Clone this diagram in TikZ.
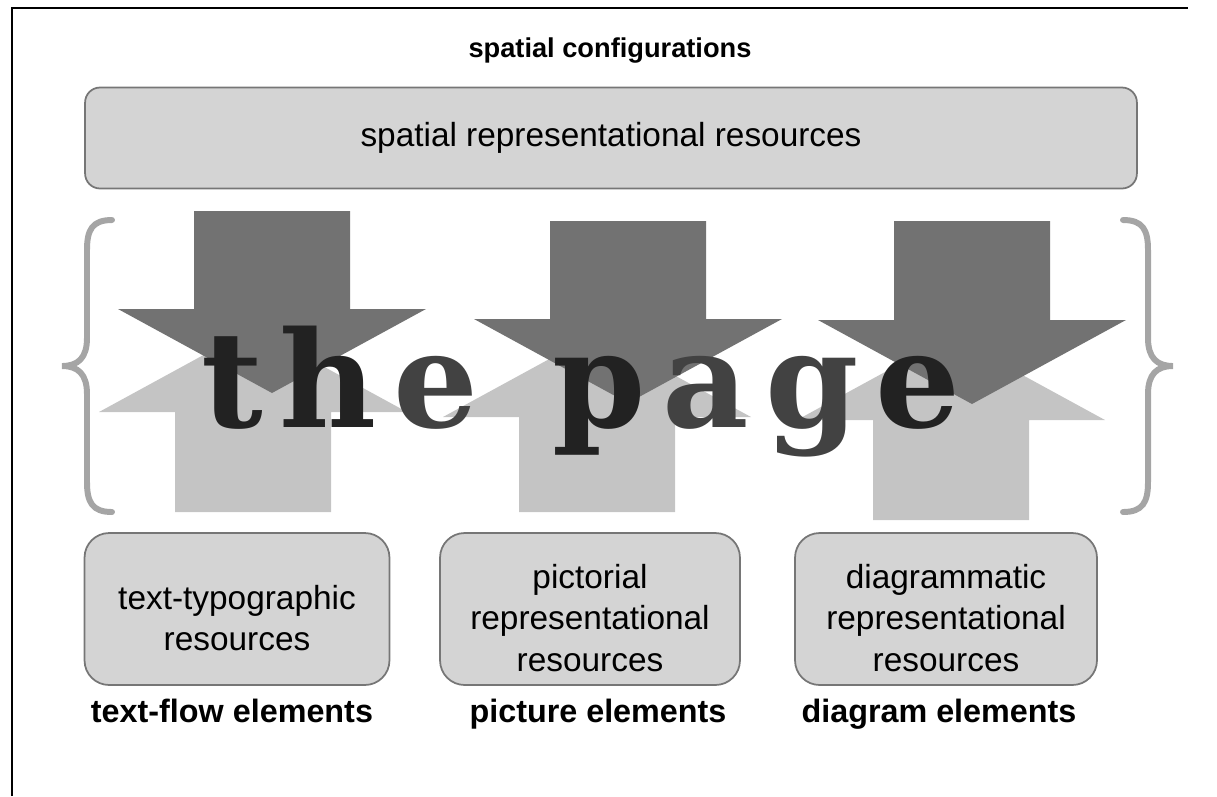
\documentclass[tikz,border=0pt]{standalone}
\usepackage{fontspec}
\setmainfont{Liberation Sans}
\newfontfamily\pagefont{DejaVu Serif}
\newcommand{\pgap}{\kern9.5pt}
\definecolor{boxgray}{RGB}{212, 212, 212}
\definecolor{edgegray}{RGB}{118, 118, 118}
\definecolor{downgray}{RGB}{114, 114, 114}
\definecolor{upgray}{RGB}{196, 196, 196}
\definecolor{bracegray}{RGB}{165, 165, 165}
\definecolor{inkgray}{RGB}{66, 66, 66}
\definecolor{inkdark}{RGB}{34, 34, 34}

\begin{document}
\begin{tikzpicture}[x=0.02cm, y=-0.02cm,
  resbox/.style={draw=edgegray, fill=boxgray, line width=1pt, rounded corners=14pt,
    minimum height=3.04cm},
  restext/.style={align=center, font=\fontsize{19}{23.5}\selectfont},
  elemlabel/.style={anchor=base, font=\bfseries\fontsize{18.4}{22}\selectfont},
  bracestroke/.style={draw=bracegray, line width=3.4pt, line cap=round}]
  \useasboundingbox (0,0) rectangle (1217,796);

  % Frame
  \draw[line width=1.2pt] (12,796) -- (12,8) -- (1188,8);

  % Title
  \node[anchor=base, font=\bfseries\fontsize{15.5}{18}\selectfont] (spatconf) at (610,57) {spatial configurations};

  % Spatial resources bar
  \node[resbox, restext, rounded corners=8.5pt, minimum width=21.04cm, minimum height=2.02cm] (spatres) at (611,138) {spatial representational resources};

  % Braces
  \draw[bracestroke] (112,220) .. controls (92,220) and (87,230) .. (87,250) -- (87,338)
    .. controls (87,358) and (78,366) .. (62,366) .. controls (78,366) and (87,374) .. (87,394)
    -- (87,482) .. controls (87,502) and (92,512) .. (112,512);
  \draw[bracestroke] (1123,220) .. controls (1143,220) and (1148,230) .. (1148,250) -- (1148,338)
    .. controls (1148,358) and (1157,366) .. (1173,366) .. controls (1157,366) and (1148,374) .. (1148,394)
    -- (1148,482) .. controls (1148,502) and (1143,512) .. (1123,512);

  % Up arrows (light)
  \foreach \ux/\ub/\uh in {253/512/412, 597/512/417, 951/520/420}
    \fill[upgray] ({\ux-78},\ub) -- ({\ux+78},\ub) -- ({\ux+78},\uh) -- ({\ux+154},\uh)
      -- (\ux,{\uh-84}) -- ({\ux-154},\uh) -- ({\ux-78},\uh) -- cycle;

  % Down arrows (dark)
  \foreach \dx/\dt/\db in {272/211/309, 628/221/319, 972/221/320}
    \fill[downgray] ({\dx-78},\dt) -- ({\dx+78},\dt) -- ({\dx+78},\db) -- ({\dx+154},\db)
      -- (\dx,{\db+84}) -- ({\dx-154},\db) -- ({\dx-78},\db) -- cycle;

  % the page
  \node[anchor=base, inner sep=0pt, text=inkgray, font=\pagefont\bfseries\fontsize{76}{82}\selectfont] (thepage) at (581,427)
    {{\color{inkdark}t\pgap h}\pgap e\kern42pt{\color{inkdark}p}\pgap a\pgap g\pgap{\color{inkdark}e}};

  % Resource boxes
  \node[resbox, minimum width=6.1cm] (textres) at (237,609) {};
  \node[resbox, minimum width=6cm] (pictres) at (590,609) {};
  \node[resbox, minimum width=6.04cm] (diagres) at (946,609) {};
  \node[restext] (textrestxt) at (237,618) {text-typographic\\resources};
  \node[restext] (pictrestxt) at (590,618) {pictorial\\representational\\resources};
  \node[restext] (diagrestxt) at (946,618) {diagrammatic\\representational\\resources};

  % Element labels
  \node[elemlabel] (textel) at (232,722) {text-flow elements};
  \node[elemlabel] (pictel) at (598,722) {picture elements};
  \node[elemlabel] (diagel) at (939,722) {diagram elements};
\end{tikzpicture}
\end{document}
